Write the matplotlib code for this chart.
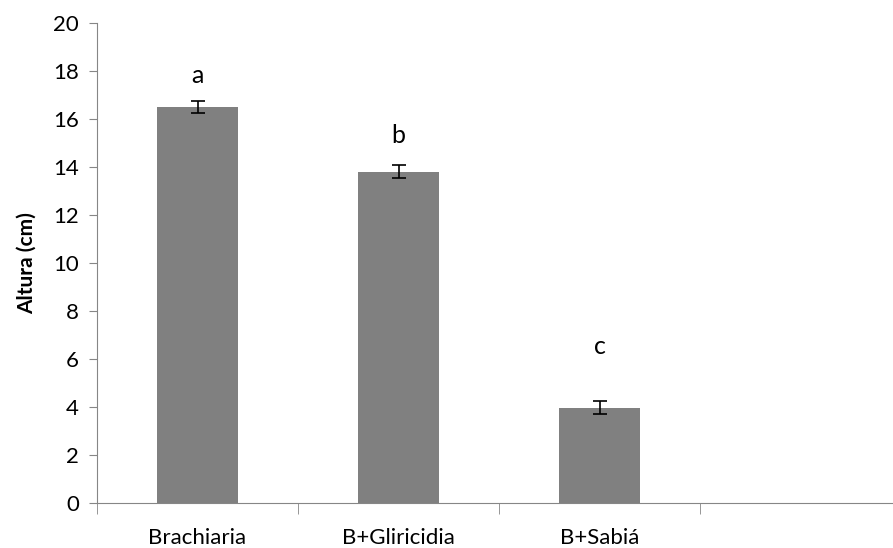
import matplotlib
matplotlib.use("Agg")
import matplotlib.pyplot as plt
from matplotlib.ticker import FixedLocator, NullFormatter

categories = ["Brachiaria", "B+Gliricidia", "B+Sabiá"]
values = [16.5, 13.8, 3.97]
errors = [0.27, 0.27, 0.27]
letters = ["a", "b", "c"]
letter_y = [17.8, 15.3, 6.5]
yticks = list(range(0, 21, 2))

plt.rcParams['font.family'] = ['Lato', 'DejaVu Sans']

fig = plt.figure(figsize=(8.93, 5.48), dpi=100)
ax = fig.add_axes([97/893, 45/548, 796/893, 480/548])

x = list(range(len(categories)))
ax.bar(x, values, width=0.4, color="#808080", zorder=2)
ax.errorbar(x, values, yerr=errors, fmt="none", ecolor="black", elinewidth=1.2,
            capsize=5, capthick=1.2, zorder=3)
for xi, lt, ly in zip(x, letters, letter_y):
    ax.text(xi, ly, lt, ha="center", va="center", fontsize=18)

ax.set_xlim(-0.5, 3.46)
ax.set_ylim(0, 20)
ax.set_yticks(yticks)
ax.tick_params(axis="y", labelsize=16, length=6, color="#868686", pad=7)

ax.xaxis.set_major_locator(FixedLocator(x))
ax.set_xticklabels(categories)
ax.xaxis.set_minor_locator(FixedLocator([-0.5, 0.5, 1.5, 2.5, 3.5]))
ax.xaxis.set_minor_formatter(NullFormatter())
ax.tick_params(axis="x", which="major", length=0, labelsize=16, pad=18)
ax.tick_params(axis="x", which="minor", length=8, color="#868686")

for s in ["top", "right"]:
    ax.spines[s].set_visible(False)
for s in ["left", "bottom"]:
    ax.spines[s].set_color("#868686")

ax.set_ylabel("Altura (cm)", fontsize=15, fontweight="bold", labelpad=12)

fig.savefig("out.png", dpi=100)
